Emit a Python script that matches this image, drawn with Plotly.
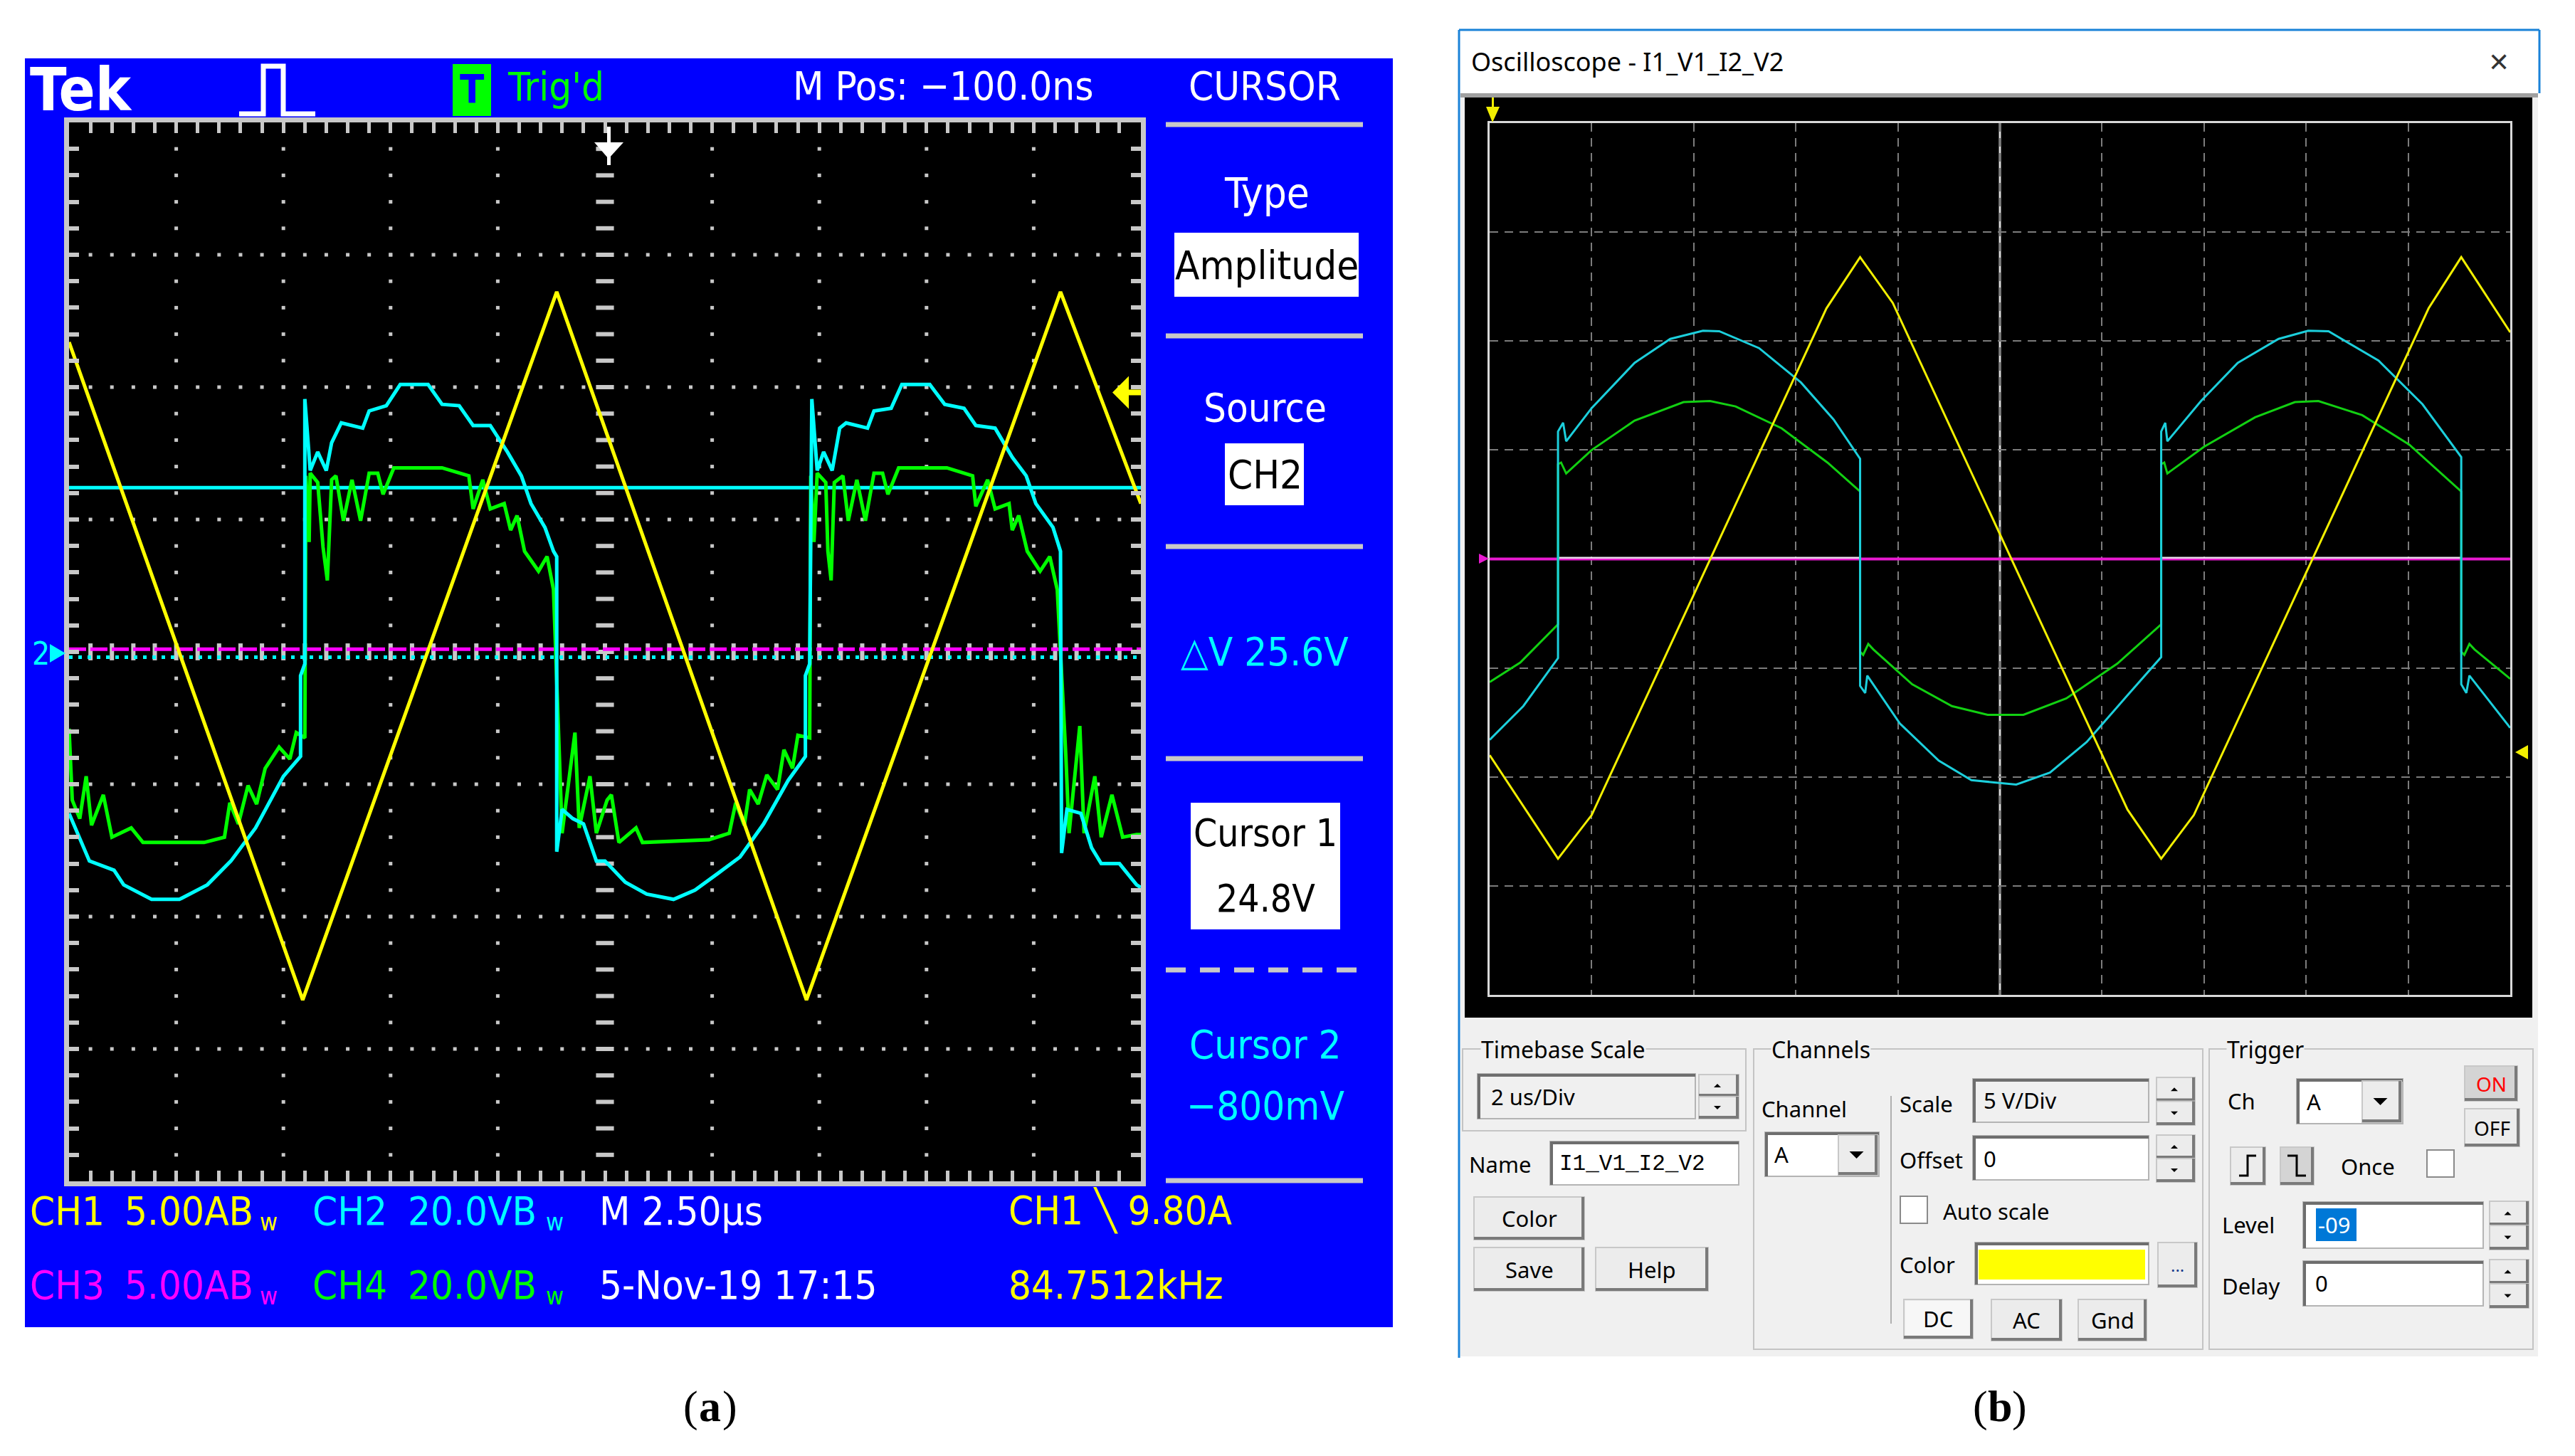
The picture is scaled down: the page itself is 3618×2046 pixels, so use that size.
import plotly.graph_objects as go

W, H = 3618, 2046
OFF = 8                      # page body margin of the html output
FW, FH = W - 2 * OFF, H - 2 * OFF
TEK_FONT = "DejaVu Sans Condensed, DejaVu Sans, sans-serif"
UI_FONT = "Noto Sans, Open Sans, sans-serif"

# ---------------- panel (a): Tek scope, values in divisions (10 x 8) ----------------
CH1_A_PER_DIV = 5.0
CH2_V_PER_DIV = 20.0
TRIG_LEVEL_A = 9.80
CURSOR_V = [24.8, -0.8]
TEK_CH3_LEVEL = 0.02

TEK_CH1 = [(0, 2.34), (2.18, -2.63), (4.55, 2.72), (6.88, -2.63), (9.25, 2.72), (10, 1.12)]

TEK_CH2 = [(0, -1.22), (0.19, -1.58), (0.42, -1.65), (0.51, -1.76), (0.77, -1.87), (1.03, -1.87),
           (1.29, -1.76), (1.51, -1.58), (1.74, -1.33), (2.0, -0.94), (2.16, -0.79), (2.16, -0.18),
           (2.2, -0.09), (2.2, 1.91), (2.25, 1.37), (2.32, 1.51), (2.40, 1.37), (2.45, 1.58),
           (2.54, 1.73), (2.74, 1.69), (2.80, 1.82), (2.96, 1.86), (3.09, 2.02), (3.35, 2.02),
           (3.48, 1.87), (3.64, 1.86), (3.77, 1.71), (3.93, 1.71), (4.09, 1.51), (4.22, 1.33),
           (4.31, 1.12), (4.44, 0.94), (4.52, 0.76), (4.55, 0.72), (4.55, -1.51), (4.60, -1.19),
           (4.70, -1.26), (4.80, -1.30), (4.92, -1.58), (5.0, -1.58), (5.19, -1.74), (5.39, -1.83),
           (5.64, -1.87), (5.84, -1.80), (6.06, -1.67), (6.26, -1.55), (6.48, -1.30), (6.71, -0.97),
           (6.87, -0.79), (6.87, -0.18), (6.91, -0.09), (6.93, 1.91), (6.98, 1.37), (7.04, 1.51),
           (7.12, 1.37), (7.19, 1.69), (7.25, 1.73), (7.45, 1.69), (7.51, 1.82), (7.67, 1.84),
           (7.77, 2.02), (8.03, 2.02), (8.17, 1.87), (8.35, 1.84), (8.46, 1.71), (8.64, 1.69),
           (8.80, 1.47), (8.93, 1.33), (9.02, 1.12), (9.18, 0.94), (9.25, 0.76), (9.26, -1.52),
           (9.31, -1.19), (9.44, -1.22), (9.54, -1.48), (9.63, -1.60), (9.80, -1.60), (9.96, -1.76),
           (10, -1.78)]

TEK_CH4 = [(0, -0.58), (0.03, -1.12), (0.10, -1.26), (0.16, -0.94), (0.21, -1.31), (0.32, -1.08),
           (0.40, -1.40), (0.58, -1.33), (0.69, -1.44), (1.26, -1.44), (1.45, -1.40), (1.50, -1.14),
           (1.58, -1.30), (1.67, -1.01), (1.75, -1.15), (1.83, -0.88), (1.96, -0.72), (2.06, -0.81),
           (2.12, -0.61), (2.20, -0.65), (2.21, 1.33), (2.24, 0.83), (2.25, 1.35), (2.32, 1.28),
           (2.37, 0.79), (2.41, 0.54), (2.45, 1.30), (2.49, 1.33), (2.56, 0.99), (2.64, 1.30),
           (2.72, 0.99), (2.80, 1.35), (2.88, 1.35), (2.93, 1.19), (3.03, 1.39), (3.48, 1.39),
           (3.73, 1.33), (3.77, 1.08), (3.86, 1.30), (3.93, 1.08), (4.06, 1.12), (4.12, 0.92),
           (4.18, 1.03), (4.25, 0.76), (4.38, 0.61), (4.46, 0.72), (4.52, 0.47), (4.57, -0.79),
           (4.60, -1.37), (4.72, -0.61), (4.76, -1.33), (4.86, -0.94), (4.92, -1.37), (5.02, -1.12),
           (5.06, -1.08), (5.13, -1.44), (5.29, -1.33), (5.35, -1.44), (5.97, -1.42), (6.16, -1.37),
           (6.22, -1.14), (6.30, -1.31), (6.35, -1.04), (6.43, -1.15), (6.51, -0.93), (6.61, -1.04),
           (6.67, -0.74), (6.75, -0.88), (6.80, -0.63), (6.91, -0.65), (6.92, 1.33), (6.95, 0.83),
           (6.98, 1.35), (7.06, 1.28), (7.08, 0.76), (7.11, 0.54), (7.14, 1.28), (7.22, 1.33),
           (7.27, 0.99), (7.35, 1.30), (7.43, 0.99), (7.51, 1.35), (7.59, 1.35), (7.64, 1.19),
           (7.74, 1.39), (8.19, 1.39), (8.43, 1.33), (8.46, 1.10), (8.57, 1.30), (8.64, 1.08),
           (8.77, 1.12), (8.80, 0.92), (8.86, 1.03), (8.94, 0.76), (9.06, 0.61), (9.15, 0.72),
           (9.22, 0.47), (9.30, -0.79), (9.33, -1.37), (9.43, -0.56), (9.47, -1.37), (9.57, -0.94),
           (9.63, -1.40), (9.73, -1.08), (9.83, -1.40), (9.96, -1.38), (10, -1.38)]

# ---------------- panel (b): simulation scope, values in divisions ----------------
SIM_A = [(0, -1.80), (0.35, -2.3), (0.67, -2.75), (1.0, -2.35), (3.3, 2.3), (3.63, 2.77),
         (3.95, 2.35), (6.25, -2.3), (6.58, -2.75), (6.9, -2.35), (9.2, 2.3), (9.52, 2.77), (10, 2.08)]

SIM_GREEN = [(0, -1.13), (0.30, -0.95), (0.67, -0.60), (0.67, 0.87), (0.70, 0.885), (0.75, 0.785),
             (1.0, 1.00), (1.42, 1.27), (1.90, 1.44), (2.16, 1.45), (2.41, 1.40), (2.86, 1.20),
             (3.31, 0.885), (3.63, 0.62), (3.63, -0.85), (3.66, -0.88), (3.71, -0.78), (3.76, -0.83),
             (4.14, -1.15), (4.53, -1.35), (4.88, -1.43), (5.23, -1.43), (5.65, -1.28), (6.15, -0.96),
             (6.58, -0.60), (6.58, 0.87), (6.61, 0.885), (6.64, 0.785), (7.0, 1.03), (7.50, 1.30),
             (7.89, 1.44), (8.12, 1.45), (8.55, 1.32), (9.01, 1.05), (9.52, 0.62), (9.52, -0.85),
             (9.55, -0.88), (9.60, -0.78), (9.65, -0.83), (10, -1.10)]

SIM_CYAN = [(0, -1.66), (0.33, -1.35), (0.67, -0.91), (0.67, 1.17), (0.72, 1.25), (0.75, 1.08),
            (1.0, 1.385), (1.42, 1.80), (1.77, 2.02), (2.09, 2.095), (2.25, 2.09), (2.64, 1.935),
            (3.05, 1.62), (3.37, 1.28), (3.63, 0.92), (3.63, -1.165), (3.68, -1.23), (3.70, -1.07),
            (4.02, -1.51), (4.40, -1.85), (4.72, -2.03), (5.16, -2.07), (5.49, -1.96), (5.85, -1.68),
            (6.25, -1.25), (6.58, -0.90), (6.58, 1.17), (6.62, 1.25), (6.64, 1.08), (6.97, 1.45),
            (7.33, 1.80), (7.73, 2.02), (8.02, 2.095), (8.22, 2.09), (8.71, 1.82), (9.14, 1.42),
            (9.52, 0.935), (9.52, -1.15), (9.57, -1.23), (9.60, -1.07), (10, -1.55)]

SIM_ON_INTERVALS = [(0.67, 3.63), (6.58, 9.52)]


def xs(pts):
    return [p[0] for p in pts]


def ys(pts):
    return [p[1] for p in pts]


def X(x):
    return (x - OFF) / FW


def Y(y):
    return 1 - (y - OFF) / FH


shapes, annots = [], []


def rect(x0, y0, x1, y1, fill=None, line=None, lw=0, dash=None, layer="below"):
    shapes.append(dict(type="rect", xref="paper", yref="paper", x0=X(x0), x1=X(x1),
                       y0=Y(y1), y1=Y(y0), fillcolor=fill or "rgba(0,0,0,0)",
                       line=dict(color=line or "rgba(0,0,0,0)", width=lw, dash=dash), layer=layer))


def seg(x0, y0, x1, y1, color, lw, dash=None, layer="below"):
    shapes.append(dict(type="line", xref="paper", yref="paper", x0=X(x0), x1=X(x1),
                       y0=Y(y0), y1=Y(y1), line=dict(color=color, width=lw, dash=dash),
                       layer=layer))


def path(pts, fill=None, color=None, lw=0, closed=True, layer="above"):
    d = "M " + " L ".join(f"{X(x):.5f},{Y(y):.5f}" for x, y in pts)
    if closed:
        d += " Z"
    shapes.append(dict(type="path", xref="paper", yref="paper", path=d,
                       fillcolor=fill or "rgba(0,0,0,0)",
                       line=dict(color=color or "rgba(0,0,0,0)", width=lw), layer=layer))


def label(x, y, s, size, color, family=TEK_FONT, anchor="left", bg=None, weight="normal"):
    annots.append(dict(x=X(x), y=Y(y), xref="paper", yref="paper", text=s, showarrow=False,
                       xanchor=anchor, yanchor="middle", borderpad=0,
                       bgcolor=bg or "rgba(0,0,0,0)",
                       font=dict(size=size, color=color, family=family, weight=weight)))


def bw_label(x, y, s, color, wx):
    # channel scale with the bandwidth-limit "B w" badge
    label(x, y, s + "B", 56, color)
    label(wx, y + 16, "w", 34, color)


# ======================= panel (a) decorations =======================
BLUE = "#0000ff"
GRAY = "#c8c8c8"
rect(35, 82, 1957, 1865, fill=BLUE)
rect(97, 172, 1603, 1660, fill="black")

label(41, 126, "Tek", 84, "white", weight="bold")
path([(336, 160), (370, 160), (370, 93), (398, 93), (398, 160), (443, 160)],
     color="white", lw=7, closed=False)
rect(636, 90, 690, 163, fill="#00ff00", layer="above")
label(663, 124, "T", 56, BLUE, anchor="center", weight="bold")
label(712, 122, "Trig'd", 56, "#00ff00")
label(1113, 120, "M Pos: \u2212100.0ns", 56, "white")
label(1777, 120, "CURSOR", 56, "white", anchor="center")

for yy in (175, 472, 768, 1066, 1659):
    seg(1638, yy, 1915, yy, GRAY, 7)
seg(1638, 1363, 1915, 1363, GRAY, 7, dash="28px,20px")

label(1780, 272, "Type", 58, "white", anchor="center")
rect(1650, 327, 1909, 417, fill="white")
label(1780, 372, "Amplitude", 56, "black", anchor="center")
label(1777, 572, "Source", 56, "white", anchor="center")
rect(1721, 623, 1832, 710, fill="white")
label(1777, 666, "CH2", 56, "black", anchor="center")
label(1777, 916, "\u25b3V 25.6V", 56, "#00ffff", anchor="center")
rect(1673, 1128, 1883, 1306, fill="white")
label(1778, 1170, "Cursor 1", 53, "black", anchor="center")
label(1778, 1262, "24.8V", 53, "black", anchor="center")
label(1778, 1467, "Cursor 2", 56, "#00ffff", anchor="center")
label(1778, 1553, "\u2212800mV", 56, "#00ffff", anchor="center")

label(41, 1701, "CH1", 56, "#ffff00")
bw_label(174, 1701, "5.00A", "#ffff00", 364)
label(438, 1701, "CH2", 56, "#00ffff")
bw_label(572, 1701, "20.0V", "#00ffff", 766)
label(841, 1701, "M 2.50\u00b5s", 56, "white")
label(1416, 1701, "CH1 \u2572 9.80A", 56, "#ffff00")
label(41, 1805, "CH3", 56, "#ff00ff")
bw_label(174, 1805, "5.00A", "#ff00ff", 364)
label(438, 1805, "CH4", 56, "#00ff00")
bw_label(572, 1805, "20.0V", "#00ff00", 766)
label(841, 1805, "5-Nov-19 17:15", 56, "white")
label(1416, 1805, "84.7512kHz", 56, "#ffff00")

# ground marker and trigger markers
label(44, 918, "2", 44, "#00ffff")
path([(70, 905), (92, 918), (70, 931)], fill="#00ffff")
rect(853, 178, 858, 232, fill="white", layer="above")
path([(835, 200), (876, 200), (855, 223)], fill="white")
trig_y = 916 - TRIG_LEVEL_A / CH1_A_PER_DIV * 186
path([(1563, trig_y), (1586, trig_y - 23), (1586, trig_y + 23)], fill="#ffff00")
rect(1584, trig_y - 4, 1603, trig_y + 4, fill="#ffff00", layer="above")

# ======================= panel (b) decorations =======================
rect(2052, 44, 3566, 1906, fill="#f0f0f0")
rect(2052, 44, 3566, 131, fill="white")
seg(2050, 42, 3568, 42, "#1a82d8", 3)
seg(2050, 42, 2050, 1908, "#1a82d8", 3)
seg(3568, 42, 3568, 131, "#1a82d8", 3)
rect(2052, 131, 3566, 137, fill="#a0a0a0")
rect(2058, 137, 3558, 1430, fill="black")
label(2066, 86, "Oscilloscope - I1_V1_I2_V2", 36, "black", family=UI_FONT)
label(3511, 86, "\u2715", 36, "#333333", family=UI_FONT, anchor="center")

path([(2096, 137), (2099, 137), (2099, 152), (2096, 152)], fill="#f2ef00")
path([(2088, 150), (2107, 150), (2097, 172)], fill="#f2ef00")
path([(2078, 778), (2092, 785), (2078, 792)], fill="#e81ad0")
path([(3534, 1057), (3552, 1047), (3552, 1067)], fill="#f2ef00")


def field(x0, y0, x1, y1, fill="white"):
    rect(x0, y0, x1, y1, fill=fill, line="#b4b4b4", lw=2)
    seg(x0, y0 + 2, x1, y0 + 2, "#6e6e6e", 4)
    seg(x0 + 2, y0, x0 + 2, y1, "#6e6e6e", 4)


def button(x0, y0, x1, y1, text=None, size=32, color="black", pressed=False):
    rect(x0, y0, x1, y1, fill="#d4d4d4" if pressed else "#ececec", line="#c8c8c8", lw=2)
    seg(x0, y1 - 2, x1, y1 - 2, "#7a7a7a", 4)
    seg(x1 - 2, y0, x1 - 2, y1, "#7a7a7a", 4)
    if text:
        label((x0 + x1) / 2, (y0 + y1) / 2, text, size, color, family=UI_FONT, anchor="center")


def arrow_glyph(cx, cy, up, s=5):
    if up:
        path([(cx - s, cy + s / 2), (cx + s, cy + s / 2), (cx, cy - s / 2)], fill="black")
    else:
        path([(cx - s, cy - s / 2), (cx + s, cy - s / 2), (cx, cy + s / 2)], fill="black")


def spinner(x0, y0, x1, y1):
    mid = (y0 + y1) / 2
    button(x0, y0, x1, mid)
    button(x0, mid, x1, y1)
    arrow_glyph((x0 + x1) / 2 - 2, (y0 + mid) / 2, True)
    arrow_glyph((x0 + x1) / 2 - 2, (mid + y1) / 2, False)


def dropdown_btn(x0, y0, x1, y1):
    button(x0, y0, x1, y1)
    arrow_glyph((x0 + x1) / 2 - 2, (y0 + y1) / 2, False, s=10)


def group(x0, y0, x1, y1, title, tx):
    rect(x0, y0, x1, y1, line="#c4c4c4", lw=2)
    label(tx, y0, title, 32, "black", family=UI_FONT, bg="#f0f0f0")


group(2055, 1474, 2453, 1589, "Timebase Scale", 2080)
field(2076, 1509, 2382, 1572, fill="#f0f0f0")
label(2094, 1541, "2 us/Div", 31, "black", family=UI_FONT)
spinner(2387, 1510, 2443, 1572)
label(2063, 1636, "Name", 31, "black", family=UI_FONT)
field(2178, 1604, 2443, 1665)
label(2190, 1635, "I1_V1_I2_V2", 31, "black", family="Liberation Mono, DejaVu Sans Mono")
button(2071, 1682, 2226, 1742, "Color", 31)
button(2071, 1753, 2226, 1814, "Save", 31)
button(2242, 1753, 2400, 1814, "Help", 31)

group(2464, 1474, 3095, 1896, "Channels", 2488)
label(2474, 1558, "Channel", 31, "black", family=UI_FONT)
field(2480, 1591, 2640, 1653)
label(2492, 1622, "A", 31, "black", family=UI_FONT)
dropdown_btn(2583, 1595, 2638, 1651)
seg(2657, 1540, 2657, 1860, "#b0b0b0", 2)
label(2668, 1551, "Scale", 31, "black", family=UI_FONT)
field(2772, 1516, 3019, 1577, fill="#f0f0f0")
label(2786, 1546, "5 V/Div", 31, "black", family=UI_FONT)
spinner(3030, 1514, 3084, 1581)
label(2668, 1630, "Offset", 31, "black", family=UI_FONT)
field(2772, 1596, 3019, 1658)
label(2786, 1628, "0", 31, "black", family=UI_FONT)
spinner(3030, 1595, 3084, 1661)
rect(2670, 1681, 2708, 1719, fill="white", line="#8a8a8a", lw=2)
label(2729, 1702, "Auto scale", 31, "black", family=UI_FONT)
label(2668, 1777, "Color", 31, "black", family=UI_FONT)
field(2775, 1746, 3019, 1805)
rect(2780, 1756, 3014, 1798, fill="#ffff00")
button(3032, 1746, 3087, 1809, "...", 24, color="#1a3c8c")
button(2675, 1826, 2772, 1881)
rect(2677, 1828, 2768, 1876, fill="#f7f7f7")
label(2723, 1853, "DC", 31, "black", family=UI_FONT, anchor="center")
button(2798, 1826, 2897, 1884, "AC", 31)
button(2920, 1826, 3016, 1884, "Gnd", 31)

group(3104, 1474, 3559, 1896, "Trigger", 3128)
label(3129, 1547, "Ch", 31, "black", family=UI_FONT)
field(3227, 1516, 3376, 1579)
label(3240, 1548, "A", 31, "black", family=UI_FONT)
dropdown_btn(3319, 1519, 3374, 1577)
button(3463, 1498, 3537, 1547, "ON", 28, color="#ff0000", pressed=True)
button(3463, 1558, 3540, 1611, "OFF", 28)
button(3134, 1612, 3183, 1665)
path([(3146, 1652), (3158, 1652), (3158, 1624), (3170, 1624)], color="black", lw=3, closed=False)
button(3204, 1612, 3251, 1665, pressed=True)
path([(3214, 1624), (3227, 1624), (3227, 1652), (3240, 1652)], color="black", lw=3, closed=False)
label(3288, 1639, "Once", 31, "black", family=UI_FONT)
rect(3410, 1616, 3448, 1654, fill="white", line="#8a8a8a", lw=2)
label(3121, 1721, "Level", 31, "black", family=UI_FONT)
field(3236, 1689, 3489, 1754)
rect(3254, 1698, 3311, 1744, fill="#0078d7", layer="above")
label(3256, 1721, "-09", 31, "white", family=UI_FONT)
spinner(3498, 1688, 3553, 1756)
label(3121, 1807, "Delay", 31, "black", family=UI_FONT)
field(3236, 1772, 3489, 1835)
label(3252, 1803, "0", 31, "black", family=UI_FONT)
spinner(3498, 1770, 3553, 1838)

# captions: "(a)" and "(b)" with bold letters
CAP_FONT = "Liberation Serif, serif"
for cx, letter in ((998, "a"), (2810, "b")):
    label(cx - 16, 1976, "(", 62, "black", family=CAP_FONT, anchor="right")
    label(cx, 1976, letter, 62, "black", family=CAP_FONT, anchor="center", weight="bold")
    label(cx + 16, 1976, ")", 62, "black", family=CAP_FONT, anchor="left")

# ======================= traces =======================
fig = go.Figure()

# Tek graticule dots
gx, gy = [], []
for i in range(1, 10):
    if i == 5:
        continue
    for k in range(1, 40):
        gx.append(i)
        gy.append(-4 + 0.2 * k)
for j in range(-3, 4):
    if j == 0:
        continue
    for k in range(1, 50):
        gx.append(0.2 * k)
        gy.append(j)
fig.add_trace(go.Scatter(x=gx, y=gy, mode="markers", xaxis="x", yaxis="y",
                         marker=dict(symbol="square", size=5, color=GRAY, line=dict(width=0))))
fig.add_trace(go.Scatter(x=[5] * 39, y=[-4 + 0.2 * k for k in range(1, 40)], mode="markers",
                         marker=dict(symbol="line-ew", size=18, line=dict(width=6, color=GRAY))))
fig.add_trace(go.Scatter(x=[0.2 * k for k in range(1, 50)], y=[0] * 49, mode="markers",
                         marker=dict(symbol="line-ns", size=17, line=dict(width=6, color=GRAY))))

# Tek signals
fig.add_trace(go.Scatter(x=[0, 10], y=[TEK_CH3_LEVEL] * 2, mode="lines",
                         line=dict(color="#ff00ff", width=5, dash="24px,6px")))
fig.add_trace(go.Scatter(x=[0, 10], y=[CURSOR_V[1] / CH2_V_PER_DIV] * 2, mode="lines",
                         line=dict(color="#00ffff", width=5, dash="5px,8px")))
fig.add_trace(go.Scatter(x=[0, 10], y=[CURSOR_V[0] / CH2_V_PER_DIV] * 2, mode="lines",
                         line=dict(color="#00ffff", width=5)))
fig.add_trace(go.Scatter(x=xs(TEK_CH4), y=ys(TEK_CH4), mode="lines", line=dict(color="#00ff00", width=5)))
fig.add_trace(go.Scatter(x=xs(TEK_CH2), y=ys(TEK_CH2), mode="lines", line=dict(color="#00ffff", width=5)))
fig.add_trace(go.Scatter(x=xs(TEK_CH1), y=ys(TEK_CH1), mode="lines", line=dict(color="#ffff00", width=5)))

# panel (b) signals
fig.add_trace(go.Scatter(x=[0, 10], y=[0, 0], mode="lines", xaxis="x2", yaxis="y2",
                         line=dict(color="#e81ad0", width=4)))
on_x, on_y = [], []
for a, b in SIM_ON_INTERVALS:
    on_x += [a, b, None]
    on_y += [0.012, 0.012, None]
fig.add_trace(go.Scatter(x=on_x, y=on_y, mode="lines", xaxis="x2", yaxis="y2",
                         line=dict(color="#eadcea", width=2.5)))
fig.add_trace(go.Scatter(x=xs(SIM_GREEN), y=ys(SIM_GREEN), mode="lines", xaxis="x2", yaxis="y2",
                         line=dict(color="#12d012", width=3)))
fig.add_trace(go.Scatter(x=xs(SIM_CYAN), y=ys(SIM_CYAN), mode="lines", xaxis="x2", yaxis="y2",
                         line=dict(color="#1ccfdc", width=3)))
fig.add_trace(go.Scatter(x=xs(SIM_A), y=ys(SIM_A), mode="lines", xaxis="x2", yaxis="y2",
                         line=dict(color="#f2ef00", width=3)))

shapes.append(dict(type="line", xref="x2", yref="y2 domain", x0=5, x1=5, y0=0, y1=1,
                   line=dict(color="#d8d8d8", width=3), layer="below"))

tek_axis = dict(showgrid=False, zeroline=False, showticklabels=False, ticks="inside",
                tickmode="linear", tick0=0, tickcolor=GRAY, showline=True, linecolor=GRAY,
                linewidth=7, mirror="ticks", fixedrange=True)
sim_axis = dict(showgrid=True, gridcolor="#7c7c7c", gridwidth=2, griddash="12px,9px",
                tickmode="linear", tick0=0, dtick=1, zeroline=False, showticklabels=False,
                ticks="", showline=True, linecolor="#d8d8d8", linewidth=3, mirror=True,
                fixedrange=True)

fig.update_layout(
    width=FW, height=FH, margin=dict(l=0, r=0, t=0, b=0),
    paper_bgcolor="white", plot_bgcolor="rgba(0,0,0,0)", showlegend=False,
    xaxis=dict(domain=[X(97), X(1603)], range=[0, 10], dtick=0.2, ticklen=15, tickwidth=5, **tek_axis),
    yaxis=dict(domain=[Y(1660), Y(172)], range=[-4, 4], dtick=0.2, ticklen=14, tickwidth=6,
               **tek_axis),
    xaxis2=dict(domain=[X(2093), X(3527)], range=[0, 10], anchor="y2", **sim_axis),
    yaxis2=dict(domain=[Y(1398), Y(173)], range=[-4, 4], anchor="x2", **sim_axis),
    shapes=shapes, annotations=annots,
)

fig.write_html("out.html")
